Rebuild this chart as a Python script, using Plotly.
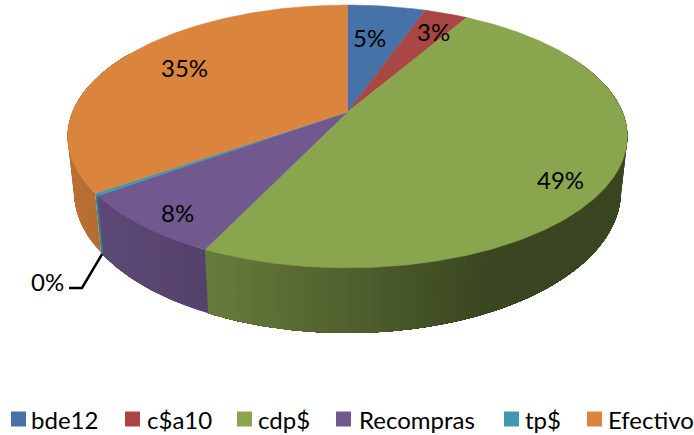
import numpy as np
import plotly.graph_objects as go

# --- data ---
categories = ["bde12", "c$a10", "cdp$", "Recompras", "tp$", "Efectivo"]
shares = [5.4, 3.0, 48.7, 7.9, 0.3, 34.7]
slice_labels = ["5%", "3%", "49%", "8%", "0%", "35%"]

# --- styling / projection ---
colors = ["#4572a7", "#aa4643", "#89a54e", "#71588f", "#4198af", "#db843d"]
CX, CY = 347.5, 112.0
F, G, K = 275.0, 126.9, 0.186       # perspective of the top face
H, SHRINK = 53.0, 0.977             # thickness and bottom-face scale
FONT = "Lato"
W, H_PX = 694, 435


def project(theta, lower=False):
    X, Y = np.sin(theta), np.cos(theta)
    w = 1 + K * Y
    s = SHRINK if lower else 1.0
    return CX + s * F * X / w, CY - G * Y / w + (H / w if lower else 0.0)


def shade(px):
    return np.interp(px, [70, 100, 207, 490, 628], [0.85, 0.82, 0.75, 0.42, 0.42])


def mix(hex_color, m):
    r, g, b = int(hex_color[1:3], 16), int(hex_color[3:5], 16), int(hex_color[5:7], 16)
    return f"rgb({r*m:.0f},{g*m:.0f},{b*m:.0f})"


edges = np.radians(np.concatenate([[0], np.cumsum(shares)]) * 3.6)
fig = go.Figure()

# side wall: nested bands per slice, so neighbouring shades leave no seam
VIS0, VIS1 = np.radians(60), np.radians(300)
for i, col in enumerate(colors):
    a0, a1 = max(edges[i], VIS0), min(edges[i + 1], VIS1)
    if a1 <= a0:
        continue
    n = max(1, int(np.degrees(a1 - a0) / 1.5))
    bounds = np.linspace(a0, a1, n + 1)
    for j in range(n):
        arc = np.linspace(bounds[j], a1, max(3, (n - j) * 2))
        xt, yt = project(arc)
        xb, yb = project(arc[::-1], lower=True)
        mid_x, _ = project(np.array([(bounds[j] + bounds[j + 1]) / 2]))
        c = mix(col, shade(mid_x[0]))
        fig.add_trace(go.Scatter(
            x=np.r_[xt, xb], y=np.r_[yt, yb], mode="lines", fill="toself",
            fillcolor=c, line=dict(width=0),
            hoverinfo="skip", showlegend=False))

# top face
for i, col in enumerate(colors):
    arc = np.linspace(edges[i], edges[i + 1], max(3, int(np.degrees(edges[i + 1] - edges[i])) * 2))
    xt, yt = project(arc)
    fig.add_trace(go.Scatter(
        x=np.r_[CX, xt, CX], y=np.r_[CY, yt, CY], mode="lines", fill="toself",
        fillcolor=col, line=dict(color=col, width=0.5),
        name=categories[i], hoverinfo="name", showlegend=False))

# leader line for the thin slice
tp_mid = (edges[4] + edges[5]) / 2
lx, ly = project(np.array([tp_mid]), lower=True)
fig.add_trace(go.Scatter(
    x=[69, 82, lx[0]], y=[288, 288, ly[0]], mode="lines",
    line=dict(color="black", width=2.5), hoverinfo="skip", showlegend=False))

label_xy = [(369, 37), (433, 31), (560, 179), (177, 212), (47, 281), (184, 67)]
annotations = [
    dict(x=x, y=y, text=t, showarrow=False, xref="x", yref="y",
         font=dict(family=FONT, size=24, color="black"))
    for (x, y), t in zip(label_xy, slice_labels)
]

# legend row, placed to match the reference spacing
swatch_x = [18.5, 132.5, 244.5, 343.5, 511.5, 594.5]
text_x = [31, 146.5, 258, 358.5, 525, 608]
LEGEND_Y = 419
for name, col, sx, tx in zip(categories, colors, swatch_x, text_x):
    fig.add_trace(go.Scatter(
        x=[sx], y=[LEGEND_Y], mode="markers", name=name, showlegend=False,
        marker=dict(symbol="square", size=15, color=col, line=dict(width=0)),
        hoverinfo="name"))
    annotations.append(dict(
        x=tx, y=LEGEND_Y, text=name, showarrow=False, xanchor="left",
        xref="x", yref="y", xshift=-2,
        font=dict(family=FONT, size=24, color="black")))

fig.update_layout(
    width=W, height=H_PX, autosize=False,
    margin=dict(l=0, r=0, t=0, b=0),
    paper_bgcolor="white", plot_bgcolor="white",
    xaxis=dict(range=[0, W], visible=False, fixedrange=True),
    yaxis=dict(range=[H_PX, 0], visible=False, fixedrange=True),
    annotations=annotations,
    showlegend=False,
)
fig.write_html("out.html", config={"displayModeBar": False},
               post_script="document.body.style.margin='0';")
